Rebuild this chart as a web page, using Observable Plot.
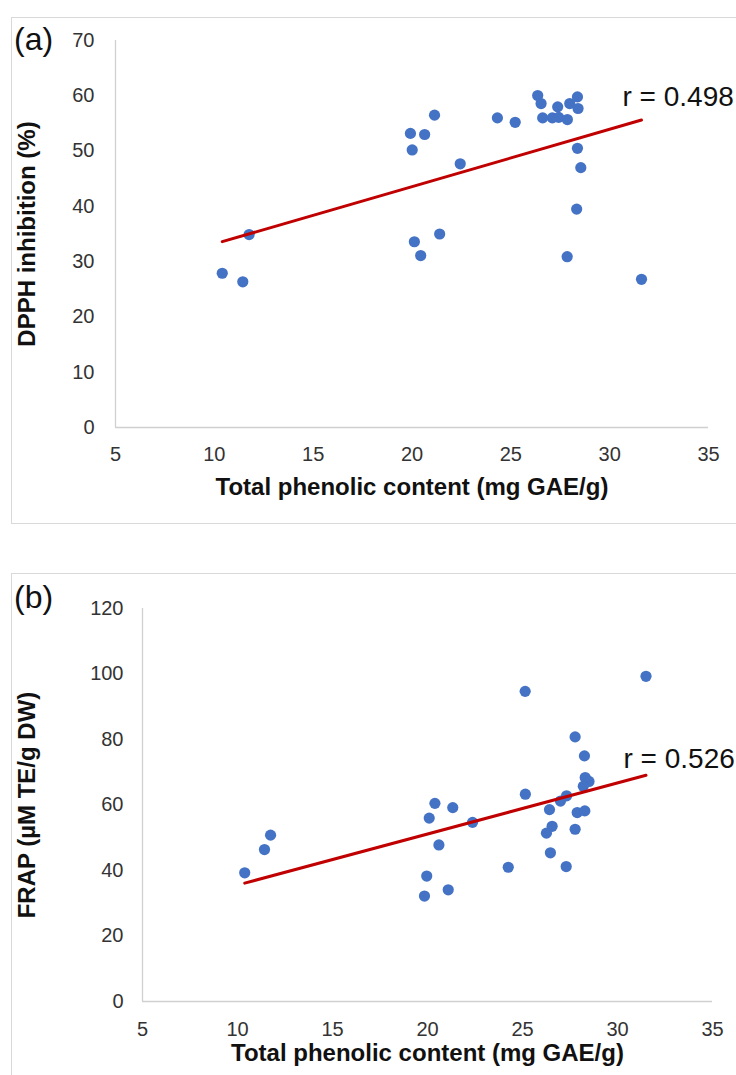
<!DOCTYPE html>
<html><head><meta charset="utf-8">
<script src="https://cdn.jsdelivr.net/npm/d3@7"></script>
<script src="https://cdn.jsdelivr.net/npm/@observablehq/plot@0.6"></script>
<style>
body{margin:0;background:#fff;width:736px;height:1075px;overflow:hidden;position:relative;font-family:"Liberation Sans",Arial,sans-serif;}
.box{position:absolute;left:11px;width:740px;border:1px solid #d9d9d9;box-sizing:border-box;}
.tag{position:absolute;left:14px;font-size:32px;line-height:1;color:#111;}
.plot{position:absolute;left:0;}
</style></head><body>
<div class="box" style="top:17px;height:507px"></div>
<div class="box" style="top:573px;height:520px"></div>
<div id="pa" class="plot" style="top:0px"></div>
<div id="pb" class="plot" style="top:560px"></div>
<div class="tag" style="top:23px">(a)</div>
<div class="tag" style="top:581px">(b)</div>
<script>
// Panel (a): total phenolic content vs DPPH inhibition
const tpcA = [10.40, 11.44, 11.76, 19.92, 20.64, 21.14, 20.01, 22.44, 24.32, 25.22, 26.36, 26.53, 27.37, 27.98,
              28.37, 28.40, 26.61, 27.10, 27.42, 27.86, 28.37, 28.54, 28.33, 20.12, 20.44, 21.40, 27.85, 31.61];
const dpph = [27.9, 26.35, 34.9, 53.2, 53.0, 56.5, 50.2, 47.7, 56.0, 55.2, 60.05, 58.6, 58.0, 58.6,
              59.8, 57.7, 56.0, 56.0, 56.1, 55.7, 50.5, 47.0, 39.5, 33.6, 31.1, 35.0, 30.9, 26.8];
// Panel (b): total phenolic content vs FRAP
const tpcB = [10.38, 11.42, 11.74, 20.39, 21.33, 20.09, 22.37, 20.60, 19.96, 19.84, 21.09, 25.14, 31.50, 27.77, 28.26,
              28.30, 28.50, 28.20, 25.15, 26.42, 27.00, 27.32, 26.56, 26.26, 26.47, 24.25, 27.30, 27.77, 27.88, 28.28];
const frap = [39.3, 46.4, 50.8, 60.5, 59.2, 56.0, 54.7, 47.8, 38.3, 32.2, 34.1, 94.7, 99.3, 80.8, 75.0,
              68.4, 67.2, 65.7, 63.3, 58.6, 61.2, 62.8, 53.5, 51.4, 45.4, 41.0, 41.2, 52.6, 57.7, 58.2];

const xTicks = [5, 10, 15, 20, 25, 30, 35];
const yTicksA = [0, 10, 20, 30, 40, 50, 60, 70];
const yTicksB = [0, 20, 40, 60, 80, 100, 120];
const xTitle = "Total phenolic content (mg GAE/g)";
const yTitleA = "DPPH inhibition (%)";
const yTitleB = "FRAP (µM TE/g DW)";
const rA = "r = 0.498";
const rB = "r = 0.526";

function panel(o) {
  const data = o.xs.map((x, i) => ({x, y: o.ys[i]}));
  return Plot.plot({
    width: 736, height: o.height,
    marginLeft: o.ml, marginRight: o.mr, marginTop: o.mt, marginBottom: o.mb,
    style: {fontFamily: "'Liberation Sans', Arial, sans-serif", background: "transparent", overflow: "visible", color: "#333"},
    x: {domain: [xTicks[0], xTicks[xTicks.length - 1]]},
    y: {domain: [o.yTicks[0], o.yTicks[o.yTicks.length - 1]]},
    marks: [
      Plot.ruleY([o.yTicks[0]], {stroke: "#d0d0d0", strokeWidth: 1.3}),
      Plot.ruleX([xTicks[0]], {stroke: "#d0d0d0", strokeWidth: 1.3}),
      Plot.axisX({ticks: xTicks, tickSize: 0, tickPadding: o.xpad, fontSize: 20, label: null}),
      Plot.axisY({ticks: o.yTicks, tickSize: 0, tickPadding: o.ypad, fontSize: 20, label: null}),
      Plot.dot(data, {x: "x", y: "y", r: 5.6, fill: "#4472C4"}),
      Plot.linearRegressionY(data, {x: "x", y: "y", stroke: "#C00000", strokeWidth: 3, ci: 0}),
      Plot.text([o.r], {text: d => d, frameAnchor: "top-right", textAnchor: "start", lineAnchor: "middle",
                        dx: o.rdx, dy: o.rdy, fontSize: 28, fill: "#111"}),
      Plot.text([xTitle], {text: d => d, frameAnchor: "bottom", textAnchor: "middle", lineAnchor: "middle",
                           dy: o.xdy, fontSize: 24, fontWeight: "bold", fill: "#111"}),
      Plot.text([o.yTitle], {text: d => d, frameAnchor: "left", textAnchor: "middle", lineAnchor: "middle",
                             rotate: -90, dx: o.ydx, fontSize: 24, fontWeight: "bold", fill: "#111"})
    ]
  });
}

document.getElementById("pa").append(panel({
  xs: tpcA, ys: dpph, yTicks: yTicksA, yTitle: yTitleA, r: rA,
  height: 523, ml: 115, mr: 28, mt: 40, mb: 96, xpad: 19, ypad: 21,
  rdx: -86, rdy: 57, xdy: 60, ydx: -88
}));
document.getElementById("pb").append(panel({
  xs: tpcB, ys: frap, yTicks: yTicksB, yTitle: yTitleB, r: rB,
  height: 515, ml: 142, mr: 24, mt: 48, mb: 74, xpad: 20, ypad: 19,
  rdx: -89, rdy: 151, xdy: 52, ydx: -115
}));
</script>
</body></html>
